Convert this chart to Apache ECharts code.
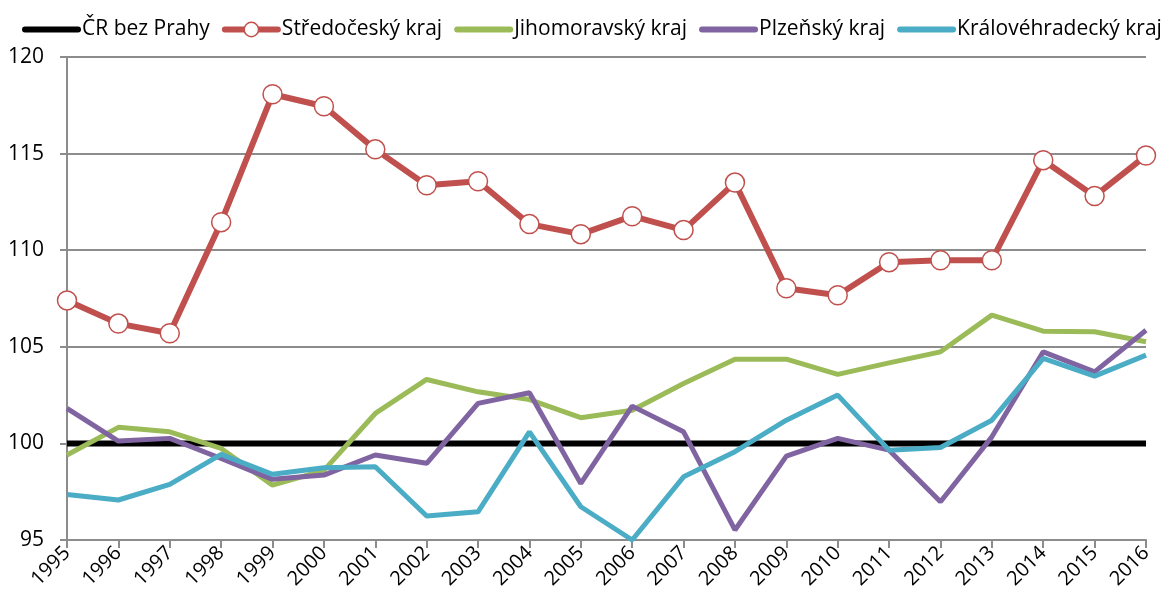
<!DOCTYPE html>
<html>
<head>
<meta charset="utf-8">
<script src="https://cdn.jsdelivr.net/npm/echarts@6/dist/echarts.min.js"></script>
<style>
  html, body { margin: 0; padding: 0; background: #fff; }
  #chart { width: 1174px; height: 605px; }
</style>
</head>
<body>
<div id="chart"></div>
<script>
// roky na ose x
const years = ['1995','1996','1997','1998','1999','2000','2001','2002','2003','2004','2005',
  '2006','2007','2008','2009','2010','2011','2012','2013','2014','2015','2016'];

const crBezPrahy = years.map(() => 100);
const stredocesky = [107.4, 106.2, 105.7, 111.45, 118.07, 117.45, 115.22, 113.36, 113.57, 111.35, 110.83,
  111.76, 111.04, 113.5, 108.03, 107.67, 109.38, 109.48, 109.48, 114.66, 112.8, 114.9];
const jihomoravsky = [99.4, 100.83, 100.6, 99.74, 97.84, 98.6, 101.55, 103.31, 102.67, 102.27, 101.33,
  101.72, 103.1, 104.35, 104.36, 103.57, 104.17, 104.74, 106.64, 105.81, 105.78, 105.26];
const plzensky = [101.81, 100.12, 100.26, 99.22, 98.14, 98.36, 99.4, 98.97, 102.07, 102.62, 97.93,
  101.93, 100.6, 95.52, 99.34, 100.26, 99.65, 96.98, 100.34, 104.74, 103.7, 105.86];
const kralovehradecky = [97.36, 97.07, 97.88, 99.43, 98.4, 98.74, 98.79, 96.24, 96.46, 100.6, 96.72,
  95.0, 98.27, 99.57, 101.2, 102.5, 99.65, 99.79, 101.2, 104.4, 103.48, 104.57];

const font = '"Open Sans", "Noto Sans", sans-serif';
const axisGrey = '#8c8c8c';

function plain(name, data, color, width, z) {
  return {
    name: name, type: 'line', data: data, symbol: 'none', z: z,
    lineStyle: { color: color, width: width },
    itemStyle: { color: color }
  };
}

// v legende jen cara bez znacky
const hideMark = { itemStyle: { opacity: 0 } };

const chart = echarts.init(document.getElementById('chart'));
chart.setOption({
  animation: false,
  textStyle: { fontFamily: font },
  legend: {
    left: 22, right: 0, top: 19, padding: 0,
    itemWidth: 53, itemHeight: 18, itemGap: 12,
    lineStyle: { width: 6, cap: 'round' },
    textStyle: { fontSize: 21, color: '#000', fontFamily: font, padding: [0, 0, 0, -1] },
    data: [
      Object.assign({ name: 'ČR bez Prahy' }, hideMark),
      { name: 'Středočeský kraj', itemStyle: { borderWidth: 1.5 } },
      Object.assign({ name: 'Jihomoravský kraj' }, hideMark),
      Object.assign({ name: 'Plzeňský kraj' }, hideMark),
      Object.assign({ name: 'Královéhradecký kraj' }, hideMark)
    ]
  },
  grid: { left: 67, right: 28, top: 57, bottom: 65, containLabel: false, outerBoundsMode: 'none' },
  xAxis: {
    type: 'category', data: years, boundaryGap: false,
    axisLine: { lineStyle: { color: axisGrey, width: 2 } },
    axisTick: { show: true, length: 8, lineStyle: { color: axisGrey, width: 2 } },
    axisLabel: {
      rotate: 45, fontSize: 20, color: '#000', margin: 10, fontFamily: font, interval: 0,
      padding: [28, 0, 0, 0]
    },
    splitLine: { show: false }
  },
  yAxis: {
    type: 'value', min: 95, max: 120, interval: 5,
    axisLine: { show: true, lineStyle: { color: axisGrey, width: 2 } },
    axisTick: { show: true, length: 7, lineStyle: { color: axisGrey, width: 2 } },
    axisLabel: { fontSize: 21, color: '#000', margin: 23, fontFamily: font },
    splitLine: { lineStyle: { color: axisGrey, width: 2 } }
  },
  series: [
    plain('ČR bez Prahy', crBezPrahy, '#000000', 6, 2),
    {
      name: 'Středočeský kraj', type: 'line', data: stredocesky, z: 6,
      symbol: 'circle', symbolSize: 19,
      lineStyle: { color: '#c0504d', width: 6 },
      itemStyle: { color: '#ffffff', borderColor: '#c0504d', borderWidth: 1.5 }
    },
    plain('Jihomoravský kraj', jihomoravsky, '#9bbb59', 5, 3),
    plain('Plzeňský kraj', plzensky, '#8064a2', 5, 4),
    plain('Královéhradecký kraj', kralovehradecky, '#4bacc6', 5, 5)
  ]
});
</script>
</body>
</html>
